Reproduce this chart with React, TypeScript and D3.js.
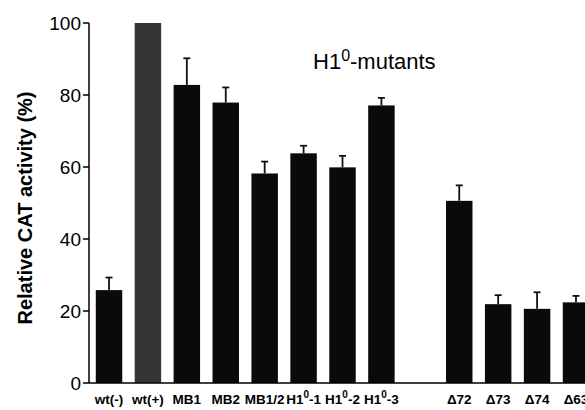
import React from "react";
import * as d3 from "d3";

const categories = ["wt(-)", "wt(+)", "MB1", "MB2", "MB1/2", "H1^0-1", "H1^0-2", "H1^0-3", "Δ72", "Δ73", "Δ74", "Δ63"];
const values = [25.8, 100, 82.8, 77.9, 58.2, 63.8, 59.9, 77.1, 50.6, 21.9, 20.6, 22.4];
const errors = [3.5, 0, 7.4, 4.2, 3.3, 2.1, 3.2, 2.1, 4.3, 2.5, 4.6, 1.8];
const yTicks = [0, 20, 40, 60, 80, 100];
const gapAfter = "H1^0-3";

const W = 585;
const H = 410;

function Label({ text, x, y }: { text: string; x: number; y: number }) {
  const parts = text.split("^");
  if (parts.length === 1) {
    return (
      <text x={x} y={y} textAnchor="middle" fontSize={13.5} fontWeight="bold" fill="#000">
        {text}
      </text>
    );
  }
  const sup = parts[1].charAt(0);
  const rest = parts[1].slice(1);
  return (
    <text x={x} y={y} textAnchor="middle" fontSize={13.5} fontWeight="bold" fill="#000">
      <tspan>{parts[0]}</tspan>
      <tspan dy={-6} fontSize={10}>{sup}</tspan>
      <tspan dy={6}>{rest}</tspan>
    </text>
  );
}

export default function App() {
  const domain: string[] = [];
  categories.forEach((c) => {
    domain.push(c);
    if (c === gapAfter) domain.push("__gap__");
  });

  const x = d3
    .scaleBand<string>()
    .domain(domain)
    .range([89.55, 595.45])
    .paddingInner(0.32)
    .paddingOuter(0.16);
  const y = d3.scaleLinear().domain([0, 100]).range([383, 23]);
  const axisX = 89;
  const bw = x.bandwidth();

  return (
    <svg
      width={W}
      height={H}
      style={{ position: "absolute", left: 0, top: 0, background: "#fff" }}
      fontFamily="'Liberation Sans', Arial, sans-serif"
    >
      {categories.map((c, i) => {
        const x0 = x(c)!;
        const top = y(values[i]);
        return (
          <g key={c}>
            <rect
              x={x0}
              y={top}
              width={bw}
              height={y(0) - top}
              fill={c === "wt(+)" ? "#353535" : "#0a0a0a"}
            />
            {errors[i] > 0 && (
              <g stroke="#111" strokeWidth={1.8}>
                <line x1={x0 + bw / 2} x2={x0 + bw / 2} y1={top} y2={y(values[i] + errors[i])} />
                <line
                  x1={x0 + bw / 2 - 3.5}
                  x2={x0 + bw / 2 + 3.5}
                  y1={y(values[i] + errors[i])}
                  y2={y(values[i] + errors[i])}
                />
              </g>
            )}
            <Label text={c} x={x0 + bw / 2} y={404} />
          </g>
        );
      })}

      <line x1={axisX} x2={axisX} y1={y(100)} y2={y(0)} stroke="#000" strokeWidth={1.5} />
      <line x1={axisX} x2={W} y1={y(0)} y2={y(0)} stroke="#000" strokeWidth={1.5} />
      {yTicks.map((t) => (
        <g key={t}>
          <line x1={axisX - 6} x2={axisX} y1={y(t)} y2={y(t)} stroke="#000" strokeWidth={1.5} />
          <text x={axisX - 8} y={y(t)} dy="0.35em" textAnchor="end" fontSize={19} fill="#000">
            {t}
          </text>
        </g>
      ))}

      <text
        transform={`translate(32,${208}) rotate(-90)`}
        textAnchor="middle"
        fontSize={20}
        fontWeight="bold"
        fill="#000"
      >
        Relative CAT activity (%)
      </text>

      <text x={313} y={69} fontSize={22} fill="#000">
        <tspan>H1</tspan>
        <tspan dy={-8} fontSize={16}>0</tspan>
        <tspan dy={8}>-mutants</tspan>
      </text>
    </svg>
  );
}
